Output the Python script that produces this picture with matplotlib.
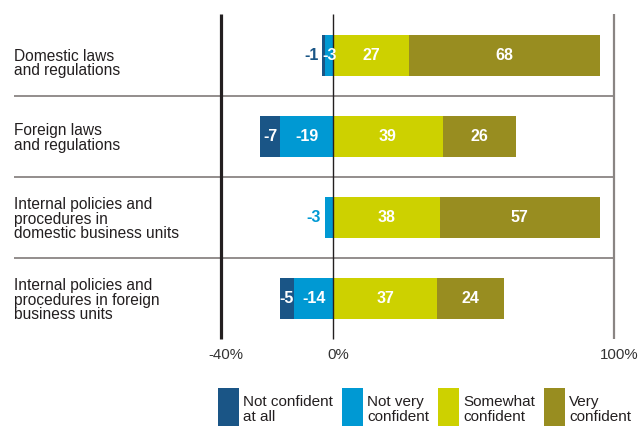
import matplotlib
matplotlib.use("Agg")
import matplotlib.pyplot as plt
from matplotlib.patches import Rectangle
import numpy as np

categories = [
    "Domestic laws\nand regulations",
    "Foreign laws\nand regulations",
    "Internal policies and\nprocedures in\ndomestic business units",
    "Internal policies and\nprocedures in foreign\nbusiness units",
]
not_at_all = [-1, -7, 0, -5]
not_very = [-3, -19, -3, -14]
somewhat = [27, 39, 38, 37]
very = [68, 26, 57, 24]

series_names = ["Not confident\nat all", "Not very\nconfident", "Somewhat\nconfident", "Very\nconfident"]
colors = ["#1a5586", "#0099d3", "#cdd100", "#988d20"]
tick_values = [-40, 0, 100]
tick_labels = ["-40%", "0%", "100%"]

W, H = 640, 426
X0_PX, PX_PER_UNIT = 333.3, 2.805
ROW0_PX, ROW_PX = 55.5, 81.0

TEXT = "#231f20"
NUM_FONT = ["Liberation Sans Narrow", "Liberation Sans", "DejaVu Sans"]
plt.rcParams["font.family"] = ["Liberation Sans", "DejaVu Sans"]

fig = plt.figure(figsize=(W / 100, H / 100), dpi=100)
ax = fig.add_axes([0, 0, 1, 1])
ax.set_xlim(-X0_PX / PX_PER_UNIT, (W - X0_PX) / PX_PER_UNIT)
ax.set_ylim((H - ROW0_PX) / ROW_PX, -ROW0_PX / ROW_PX)
ax.axis("off")


def py(px):
    return (px - ROW0_PX) / ROW_PX


def pxx(px):
    return (px - X0_PX) / PX_PER_UNIT


y = np.arange(len(categories))
bar_h = 41 / ROW_PX

# negative side: "not very" next to zero, "not at all" outside
nv = np.array(not_very)
na = np.array(not_at_all)
sw = np.array(somewhat)
vc = np.array(very)
segments = [
    (nv + na, -na, 0),    # left, width, series index
    (nv, -nv, 1),
    (np.zeros(len(y)), sw, 2),
    (sw, vc, 3),
]
for left, width, si in segments:
    ax.barh(y, width, left=left, height=bar_h, color=colors[si], linewidth=0, zorder=2)

# value labels
for i in range(len(y)):
    vals = [not_at_all[i], not_very[i], somewhat[i], very[i]]
    outer_neg = 0 if not_at_all[i] != 0 else 1
    for left, width, si in segments:
        v = vals[si]
        if v == 0:
            continue
        l, w = left[i], width[i]
        if si == outer_neg and w < 4:
            ax.text(l - 1.3, i, str(v), ha="right", va="center", color=colors[si],
                    fontsize=11.5, family=NUM_FONT, fontweight="bold", zorder=4)
        else:
            ax.text(l + w / 2, i, str(v), ha="center", va="center", color="white",
                    fontsize=11.5, family=NUM_FONT, fontweight="bold", zorder=4)

# category labels
for i, cat in enumerate(categories):
    off = 0.1 if i == 0 else 0.02
    ax.text(pxx(14), i + off, cat, ha="left", va="center", fontsize=11.2,
            color=TEXT, linespacing=0.95)

# separators
for i in range(len(y) - 1):
    ax.plot([pxx(14), 100], [i + 0.5, i + 0.5], color="#8a8583", lw=1.3, zorder=1,
            solid_capstyle="butt")

# vertical reference lines
top, bottom = py(14), py(339)
ax.plot([-40, -40], [top, bottom], color="#231f20", lw=2.3, zorder=3, solid_capstyle="butt")
ax.plot([0, 0], [top, bottom], color="#231f20", lw=1.0, zorder=3, solid_capstyle="butt")
ax.plot([100, 100], [top, bottom], color="#8a8583", lw=1.6, zorder=3, solid_capstyle="butt")

for tv, tl in zip(tick_values, tick_labels):
    ax.text(tv + 1.8, py(355), tl, ha="center", va="center", fontsize=10.8, color="#333333")

# legend
leg_x = [218, 342, 438, 544]
for lx, name, c in zip(leg_x, series_names, colors):
    fig.add_artist(Rectangle((lx / W, 1 - 426 / H), 21 / W, 38 / H,
                             transform=fig.transFigure, color=c, lw=0))
    fig.text((lx + 25) / W, 1 - 395 / H, name, ha="left", va="top", fontsize=11,
             color=TEXT, linespacing=1.05)

fig.savefig("out.png", dpi=100)
